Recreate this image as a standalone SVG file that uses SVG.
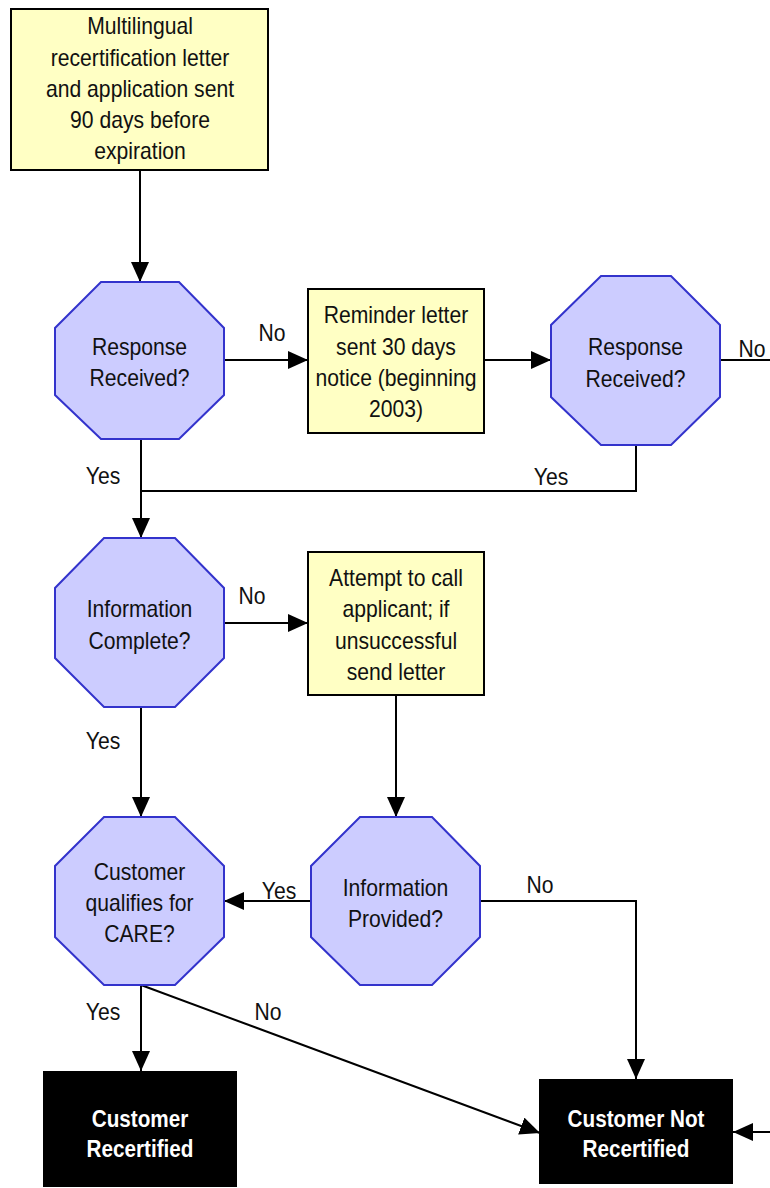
<svg xmlns="http://www.w3.org/2000/svg" width="770" height="1188" viewBox="0 0 770 1188">
<defs>
<marker id="ah" markerUnits="userSpaceOnUse" markerWidth="20" markerHeight="18" refX="20" refY="9" orient="auto">
<path d="M0,0 L20,9 L0,18 z" fill="#000"/>
</marker>
<style>
.box{fill:#FFFFC4;stroke:#000;stroke-width:2}
.oct{fill:#CCCCFF;stroke:#3333CC;stroke-width:2}
.term{fill:#000;stroke:none}
text{font-family:"Liberation Sans",Arial,sans-serif;font-size:23px;fill:#111;text-anchor:middle}
.w{fill:#fff;font-weight:bold}
.c{fill:none;stroke:#000;stroke-width:2}
.a{marker-end:url(#ah)}
</style>
</defs>
<rect width="770" height="1188" fill="#fff"/>
<g id="connectors">
<path class="c a" d="M140,170 V282"/>
<path class="c a" d="M224,360 H308"/>
<path class="c a" d="M484,360 H551"/>
<path class="c" d="M720,360 H770"/>
<path class="c" d="M636,445 V491 H141"/>
<path class="c a" d="M141,439 V538"/>
<path class="c a" d="M224,623 H308"/>
<path class="c a" d="M396,695 V817"/>
<path class="c a" d="M141,707 V817"/>
<path class="c a" d="M311,901 H224"/>
<path class="c a" d="M480,901 H636 V1079"/>
<path class="c a" d="M141,985 V1071"/>
<path class="c a" d="M141,985 L540,1133"/>
<path class="c a" d="M770,1132 H733"/>
<text transform="translate(272,341) scale(0.92,1)">No</text>
<text transform="translate(752,357) scale(0.92,1)">No</text>
<text transform="translate(103,484) scale(0.92,1)">Yes</text>
<text transform="translate(551,485) scale(0.92,1)">Yes</text>
<text transform="translate(252,604) scale(0.92,1)">No</text>
<text transform="translate(103,749) scale(0.92,1)">Yes</text>
<text transform="translate(279,899) scale(0.92,1)">Yes</text>
<text transform="translate(540,893) scale(0.92,1)">No</text>
<text transform="translate(103,1020) scale(0.92,1)">Yes</text>
<text transform="translate(268,1020) scale(0.92,1)">No</text>
</g>
<g id="n_start">
<rect class="box" x="11" y="9" width="257" height="161"/>
<text transform="translate(140,34) scale(0.92,1)">Multilingual</text>
<text transform="translate(140,65.5) scale(0.92,1)">recertification letter</text>
<text transform="translate(140,97) scale(0.92,1)">and application sent</text>
<text transform="translate(140,128) scale(0.92,1)">90 days before</text>
<text transform="translate(140,159) scale(0.92,1)">expiration</text>
</g>
<g id="n_resp1">
<polygon class="oct" points="101,282 179,282 224,328 224,395 179,439 101,439 55,395 55,328"/>
<text transform="translate(139.5,355) scale(0.92,1)">Response</text>
<text transform="translate(139.5,386) scale(0.92,1)">Received?</text>
</g>
<g id="n_reminder">
<rect class="box" x="308" y="289" width="176" height="144"/>
<text transform="translate(396,323) scale(0.92,1)">Reminder letter</text>
<text transform="translate(396,354.5) scale(0.92,1)">sent 30 days</text>
<text transform="translate(396,386) scale(0.92,1)">notice (beginning</text>
<text transform="translate(396,417) scale(0.92,1)">2003)</text>
</g>
<g id="n_resp2">
<polygon class="oct" points="601,276 671,276 720,325 720,397 671,445 601,445 551,397 551,325"/>
<text transform="translate(635.5,355) scale(0.92,1)">Response</text>
<text transform="translate(635.5,387) scale(0.92,1)">Received?</text>
</g>
<g id="n_infocomplete">
<polygon class="oct" points="104,538 175,538 224,588 224,658 175,707 104,707 55,658 55,588"/>
<text transform="translate(139.5,617) scale(0.92,1)">Information</text>
<text transform="translate(139.5,649) scale(0.92,1)">Complete?</text>
</g>
<g id="n_attempt">
<rect class="box" x="308" y="552" width="176" height="143"/>
<text transform="translate(396,586) scale(0.92,1)">Attempt to call</text>
<text transform="translate(396,617) scale(0.92,1)">applicant; if</text>
<text transform="translate(396,649) scale(0.92,1)">unsuccessful</text>
<text transform="translate(396,680) scale(0.92,1)">send letter</text>
</g>
<g id="n_qualifies">
<polygon class="oct" points="104,817 175,817 224,866 224,937 175,985 104,985 55,937 55,866"/>
<text transform="translate(139.5,880) scale(0.92,1)">Customer</text>
<text transform="translate(139.5,911) scale(0.92,1)">qualifies for</text>
<text transform="translate(139.5,942) scale(0.92,1)">CARE?</text>
</g>
<g id="n_provided">
<polygon class="oct" points="360,817 432,817 480,866 480,937 432,985 360,985 311,937 311,866"/>
<text transform="translate(395.5,896) scale(0.92,1)">Information</text>
<text transform="translate(395.5,927) scale(0.92,1)">Provided?</text>
</g>
<g id="n_recertified">
<rect class="term" x="43" y="1071" width="194" height="116"/>
<text class="w" transform="translate(140,1127) scale(0.9,1)">Customer</text>
<text class="w" transform="translate(140,1157) scale(0.9,1)">Recertified</text>
</g>
<g id="n_notrecertified">
<rect class="term" x="539" y="1079" width="194" height="105"/>
<text class="w" transform="translate(636,1127) scale(0.9,1)">Customer Not</text>
<text class="w" transform="translate(636,1157) scale(0.9,1)">Recertified</text>
</g>
</svg>
